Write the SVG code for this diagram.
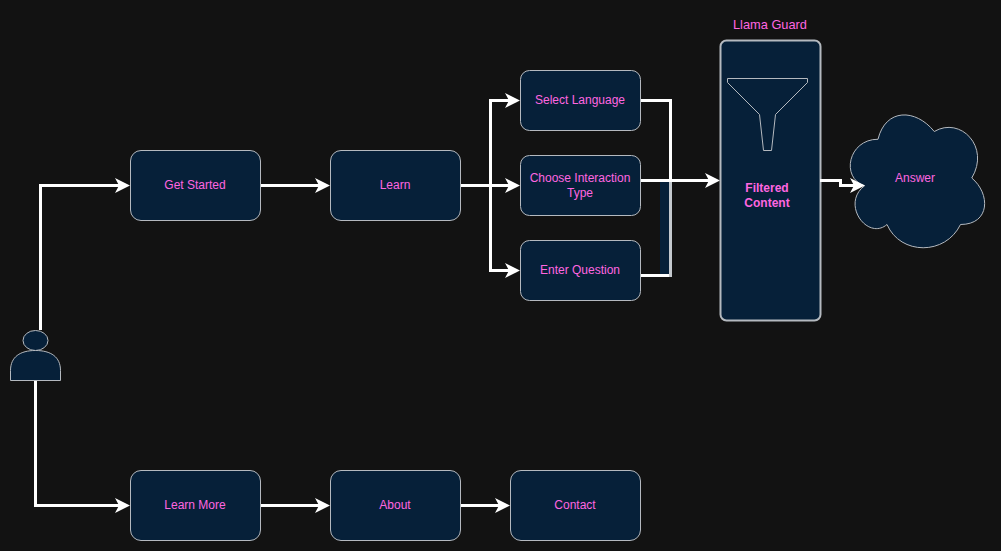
<svg xmlns="http://www.w3.org/2000/svg" width="1001" height="551" viewBox="0 0 1001 551">
<style>
.n{fill:#062039;stroke:#b4b9bf;stroke-width:1}
.g{fill:#062039;stroke:#b4b9bf;stroke-width:2}
.c{fill:none;stroke:#fff;stroke-width:3;stroke-linejoin:miter}
.a{marker-end:url(#arr)}
text{font-family:"Liberation Sans",Arial,sans-serif;font-size:12px;fill:#ff66e0;text-anchor:middle;dominant-baseline:central}
.b{font-weight:bold}
</style>
<defs>
<marker id="arr" markerUnits="userSpaceOnUse" markerWidth="15" markerHeight="15" refX="4" refY="7.5" orient="auto">
<polygon points="0,0 15,7.5 0,15 4,7.5" fill="#fff"/>
</marker>
</defs>
<rect width="1001" height="551" fill="#121212"/>
<g id="connectors">
<rect x="660" y="182" width="9" height="92" fill="#062039"/>
<rect x="669" y="182" width="3" height="95" fill="#c4c9ce"/>
<path class="c a" d="M40.5 330V185.5H119"/>
<path class="c a" d="M35.5 380V505.5H119"/>
<path class="c a" d="M260 185.5H319"/>
<path class="c a" d="M460 185.5H509"/>
<path class="c a" d="M490.5 185.5V100.5H509"/>
<path class="c a" d="M490.5 185.5V270.5H509"/>
<path class="c a" d="M260 505.5H319"/>
<path class="c a" d="M460 505.5H499"/>
<path class="c" d="M640 100.5H670.5V180"/>
<path class="c a" d="M640 180.5H709"/>
<path class="c" d="M640 275.5H669"/>
</g>
<g id="get-started"><rect class="n" x="130.5" y="150.5" width="130" height="70" rx="10.5"/><text x="195" y="184.5">Get Started</text></g>
<g id="learn"><rect class="n" x="330.5" y="150.5" width="130" height="70" rx="10.5"/><text x="395" y="184.5">Learn</text></g>
<g id="select-language"><rect class="n" x="520.5" y="70.5" width="120" height="60" rx="9"/><text x="580" y="99.5">Select Language</text></g>
<g id="choose-interaction"><rect class="n" x="520.5" y="155.5" width="120" height="60" rx="9"/><text x="580" y="177.5">Choose Interaction</text><text x="580" y="192.5">Type</text></g>
<g id="enter-question"><rect class="n" x="520.5" y="240.5" width="120" height="60" rx="9"/><text x="580" y="269.5">Enter Question</text></g>
<g id="learn-more"><rect class="n" x="130.5" y="470.5" width="130" height="70" rx="10.5"/><text x="195" y="504.5">Learn More</text></g>
<g id="about"><rect class="n" x="330.5" y="470.5" width="130" height="70" rx="10.5"/><text x="395" y="504.5">About</text></g>
<g id="contact"><rect class="n" x="510.5" y="470.5" width="130" height="70" rx="10.5"/><text x="575" y="504.5">Contact</text></g>
<g id="llama-guard"><rect class="g" x="720.5" y="40.5" width="100" height="280" rx="6"/><text x="770" y="24.5" style="font-size:12.8px">Llama Guard</text>
<path class="n" d="M727.5 78.5H807.5V82.5L775.5 114.5L771.5 150.5H763.5L759.5 114.5L727.5 82.5Z"/>
<text class="b" x="767" y="187.5">Filtered</text><text class="b" x="767" y="202.5">Content</text></g>
<g id="answer"><path class="n" d="M878 139.25C848 139.25 840.5 178 864.5 185.75C840.5 204 867.5 241 887 224.5C900.5 255.5 945.5 255.5 960.5 224.5C990.5 224.5 990.5 193.5 971.75 178C990.5 147 960.5 116 934.25 131.5C915.5 108.25 885.5 108.25 878 139.25Z"/><text x="915" y="177.5">Answer</text></g>
<g id="user"><ellipse class="n" cx="35.5" cy="340.5" rx="12.5" ry="10"/><path class="n" d="M10.5 380.5V370.5C10.5 357 20 350.5 35.5 350.5C51 350.5 60.5 357 60.5 370.5V380.5Z"/></g>
<g id="connectors-top"><path class="c a" d="M820 180.5H840.5V185.5H854"/></g>
</svg>
